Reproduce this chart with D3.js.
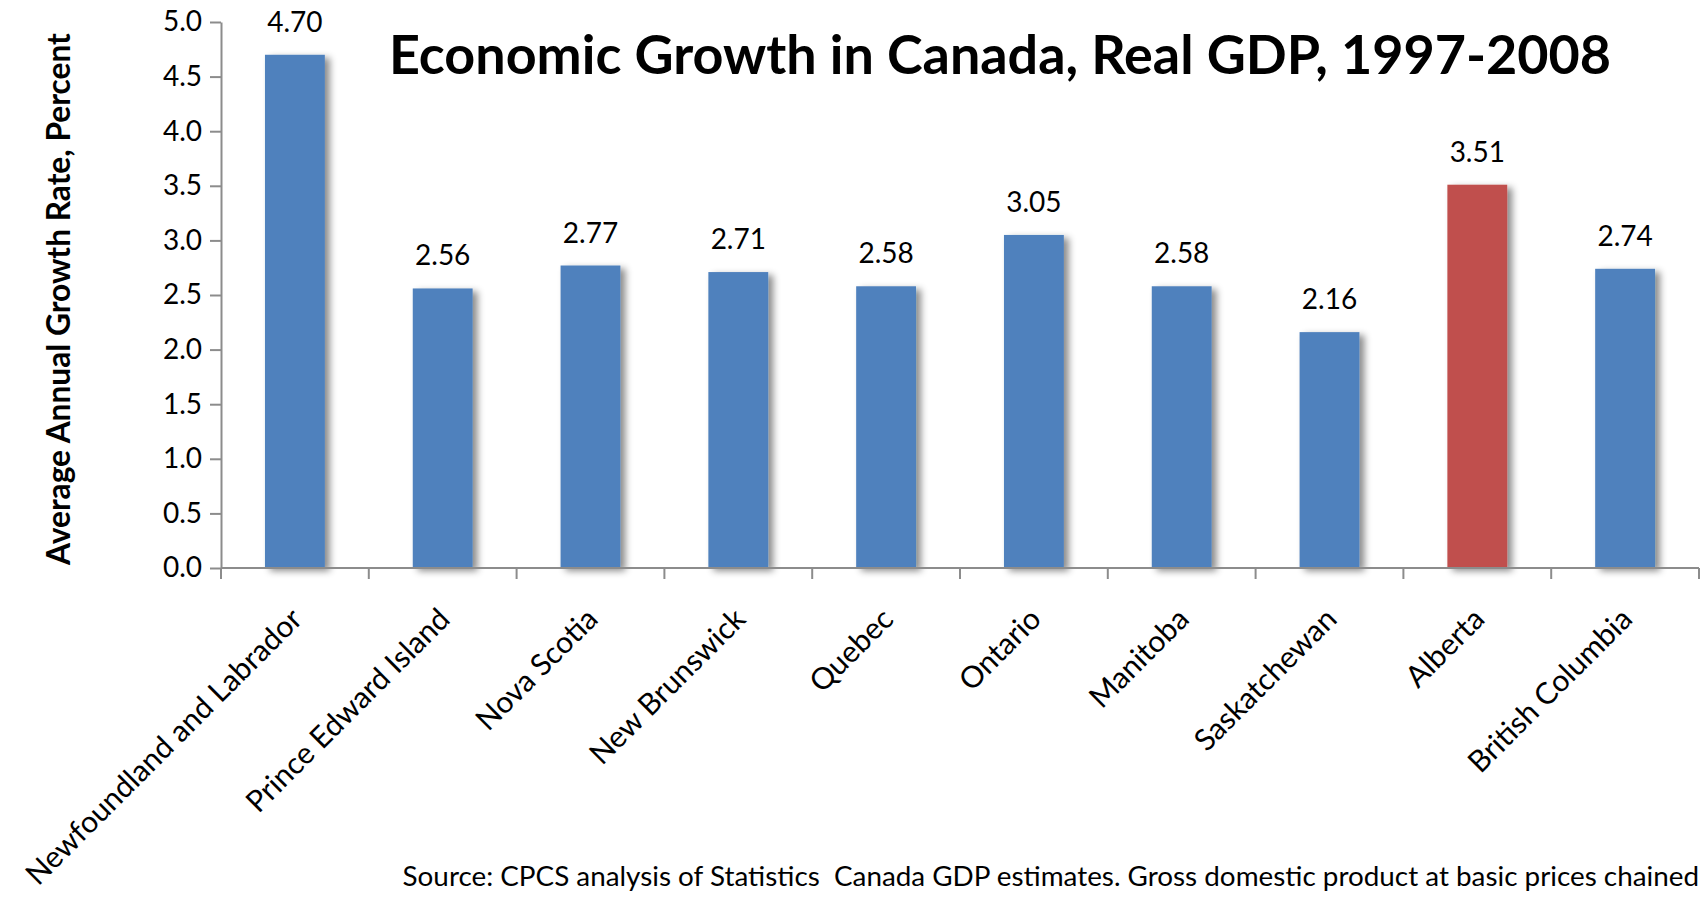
<!DOCTYPE html>
<html lang="en">
<head>
    <meta charset="UTF-8">
    <script src="https://d3js.org/d3.v7.min.js"></script>
    <style>
        body { margin: 0; background: #fff; }
        text { font-family: Lato, "Open Sans", sans-serif; fill: #000; }
        .axis path, .axis line { stroke: #8c8c8c; stroke-width: 2px; }
        .axis text { font-size: 28px; }
    </style>
</head>
<body>
    <script type="text/javascript">
        // chart data
        var provinces = ["Newfoundland and Labrador", "Prince Edward Island", "Nova Scotia",
            "New Brunswick", "Quebec", "Ontario", "Manitoba", "Saskatchewan", "Alberta",
            "British Columbia"];
        var growth = [4.70, 2.56, 2.77, 2.71, 2.58, 3.05, 2.58, 2.16, 3.51, 2.74];
        var highlight = ["Alberta"];
        var yTicks = [0, 0.5, 1, 1.5, 2, 2.5, 3, 3.5, 4, 4.5, 5];

        var titleText = "Economic Growth in Canada, Real GDP, 1997-2008";
        var yLabel = "Average Annual Growth Rate, Percent";
        var sourceText = "Source: CPCS analysis of Statistics  Canada GDP estimates. Gross domestic product at basic prices chained";

        var width = 1705, height = 902;
        var margin = {top: 22, right: 6, bottom: 334, left: 221};
        var innerW = width - margin.left - margin.right,
            innerH = height - margin.top - margin.bottom;

        var svg = d3.select("body")
                .append("svg")
                .attr("width", width)
                .attr("height", height);

        var defs = svg.append("defs");
        var shadow = defs.append("filter")
                .attr("id", "shadow")
                .attr("x", "-10%").attr("y", "-10%")
                .attr("width", "140%").attr("height", "120%");
        shadow.append("feDropShadow")
                .attr("dx", 5).attr("dy", 3)
                .attr("stdDeviation", 3.5)
                .attr("flood-color", "#000")
                .attr("flood-opacity", 0.45);

        var g = svg.append("g")
                .attr("transform", "translate(" + margin.left + "," + margin.top + ")");

        var x = d3.scaleBand()
                .domain(provinces)
                .range([0, innerW])
                .paddingInner(0.595)
                .paddingOuter(0.2975);

        var y = d3.scaleLinear()
                .domain([0, 5])
                .range([innerH, 0]);

        // shrink text until it fits a given length
        function fit(sel, target, size) {
            sel.style("font-size", size + "px");
            var w = sel.node().getComputedTextLength();
            sel.style("font-size", (size * target / w).toFixed(2) + "px");
        }

        // bars
        g.append("g")
                .selectAll("rect")
                .data(provinces)
                .enter()
                .append("rect")
                .attr("x", function (d) { return x(d); })
                .attr("y", function (d, i) { return y(growth[i]); })
                .attr("width", x.bandwidth())
                .attr("height", function (d, i) { return innerH - y(growth[i]); })
                .attr("fill", function (d) {
                    return highlight.indexOf(d) >= 0 ? "#c0504d" : "#4f81bd";
                })
                .attr("filter", "url(#shadow)");

        // value labels
        g.append("g")
                .selectAll("text")
                .data(provinces)
                .enter()
                .append("text")
                .attr("x", function (d) { return x(d) + x.bandwidth() / 2; })
                .attr("y", function (d, i) { return y(growth[i]) - 23; })
                .attr("text-anchor", "middle")
                .style("font-size", "28px")
                .text(function (d, i) { return growth[i].toFixed(2); });

        // y axis
        var yAxis = g.append("g")
                .attr("class", "axis")
                .call(d3.axisLeft(y)
                        .tickValues(yTicks)
                        .tickFormat(d3.format(".1f"))
                        .tickSize(11)
                        .tickPadding(8)
                        .tickSizeOuter(0));

        // x axis: ticks sit between categories
        var xa = g.append("g")
                .attr("class", "axis")
                .attr("transform", "translate(0," + innerH + ")");
        xa.append("line")
                .attr("x1", 0).attr("x2", innerW)
                .attr("y1", 0).attr("y2", 0);
        var step = x.step();
        xa.selectAll(".tk")
                .data(d3.range(provinces.length + 1))
                .enter()
                .append("line")
                .attr("class", "tk")
                .attr("x1", function (d) { return x(provinces[0]) - x.paddingOuter() * step + d * step; })
                .attr("x2", function (d) { return x(provinces[0]) - x.paddingOuter() * step + d * step; })
                .attr("y1", 0).attr("y2", 11);

        xa.selectAll(".lbl")
                .data(provinces)
                .enter()
                .append("text")
                .attr("class", "lbl")
                .attr("text-anchor", "end")
                .attr("transform", function (d) {
                    return "translate(" + (x(d) + x.bandwidth() / 2 + 9) + ",53) rotate(-45)";
                })
                .style("font-size", "30px")
                .text(function (d) { return d; });

        // title
        var title = svg.append("text")
                .attr("x", 389)
                .attr("y", 74)
                .style("font-weight", "bold")
                .text(titleText);
        fit(title, 1222, 50);

        // y axis title
        var yl = svg.append("text")
                .attr("transform", "translate(70,299) rotate(-90)")
                .attr("text-anchor", "middle")
                .style("font-weight", "bold")
                .text(yLabel);
        fit(yl, 532, 28);

        // source note
        var src = svg.append("text")
                .attr("x", 1699)
                .attr("y", 886)
                .attr("text-anchor", "end")
                .style("white-space", "pre")
                .text(sourceText);
        fit(src, 1297, 24);
    </script>
</body>
</html>
